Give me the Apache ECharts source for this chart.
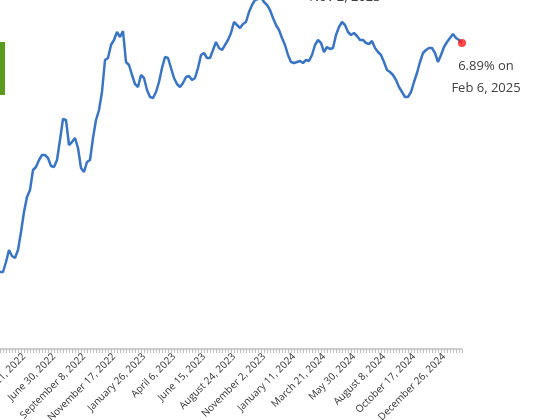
<!DOCTYPE html>
<html><head><meta charset="utf-8">
<script src="https://cdn.jsdelivr.net/npm/echarts@6/dist/echarts.min.js"></script>
<style>html,body{margin:0;padding:0;background:#fff}#c{width:560px;height:420px}</style>
</head><body><div id="c"></div>
<script>
// Weekly 30-year mortgage rate (%), first week Feb 24, 2022, last week Feb 6, 2025
const startDate = '2022-02-24';
const rates = [2.36,2.36,2.56,2.80,2.68,2.64,2.80,3.16,3.56,3.86,4.00,4.40,4.46,4.60,4.70,4.70,4.64,4.48,4.46,4.60,
5.00,5.42,5.40,4.90,4.96,5.04,4.84,4.44,4.36,4.56,4.60,5.04,5.40,5.60,5.96,6.60,6.64,6.90,7.00,7.16,
7.06,7.18,6.56,6.50,6.30,6.12,6.06,6.30,6.24,6.00,5.86,5.84,5.96,6.16,6.44,6.66,6.64,6.44,6.24,6.12,
6.06,6.14,6.26,6.28,6.20,6.24,6.44,6.70,6.74,6.64,6.64,6.80,6.96,6.84,6.80,6.90,7.00,7.14,7.36,7.30,
7.24,7.32,7.36,7.56,7.70,7.80,7.82,7.86,7.76,7.70,7.60,7.44,7.30,7.20,7.04,6.90,6.70,6.56,6.54,6.56,
6.58,6.54,6.60,6.58,6.70,6.90,7.00,6.94,6.76,6.86,6.82,6.84,7.10,7.26,7.36,7.30,7.16,7.10,7.14,7.08,
7.00,7.00,6.94,6.92,6.98,6.84,6.76,6.70,6.56,6.40,6.36,6.30,6.20,6.06,5.96,5.86,5.86,5.96,6.16,6.34,
6.56,6.74,6.80,6.84,6.84,6.74,6.56,6.70,6.86,6.96,7.04,7.12,7.04,7.00,6.94];
const lastLabel = ['6.89% on', 'Feb 6, 2025'];
const peakLabel = 'Nov 2, 2023';
const months = ['January','February','March','April','May','June','July','August','September','October','November','December'];

const dates = [];
const d0 = new Date(startDate + 'T00:00:00Z');
for (let i = 0; i < rates.length; i++) {
  const d = new Date(d0.getTime() + i * 7 * 86400000);
  dates.push(months[d.getUTCMonth()] + ' ' + d.getUTCDate() + ', ' + d.getUTCFullYear());
}
const lastIdx = rates.length - 1;

const chart = echarts.init(document.getElementById('c'));
chart.setOption({
  animation: false,
  grid: {left: 0, right: 98, top: 0, bottom: 71, containLabel: false, outerBoundsMode: 'none'},
  xAxis: {
    type: 'category', data: dates, boundaryGap: false,
    axisLine: {lineStyle: {color: '#bfbfbf', width: 1.5}},
    axisTick: {show: true, interval: 0, length: 4, lineStyle: {color: '#bfbfbf'}},
    axisLabel: {
      rotate: 45, color: '#333', fontSize: 10, fontFamily: 'Open Sans',
      interval: (i) => (i - 8) % 10 === 0, margin: 6, hideOverlap: false
    }
  },
  yAxis: {type: 'value', min: 0.82, max: 7.8, show: false, splitLine: {show: false}},
  series: [{
    type: 'line', data: rates, showSymbol: false, clip: false,
    lineStyle: {color: '#3a75c4', width: 2.5}, itemStyle: {color: '#3a75c4'}
  }, {
    type: 'scatter', data: [[lastIdx, rates[lastIdx]]], symbolSize: 8, clip: false,
    itemStyle: {color: '#ff1a1a'}, z: 5
  }],
  graphic: [
    {type: 'rect', left: 0, top: 42, shape: {width: 5, height: 53}, style: {fill: '#5a9a1e'}},
    {type: 'text', x: 345, y: -9, style: {text: peakLabel, fill: '#404040', font: '13px "Open Sans"', align: 'center'}},
    {type: 'text', x: 486, y: 55, style: {text: lastLabel.join('\n'), fill: '#404040', font: '13px "Open Sans"', lineHeight: 22, align: 'center'}}
  ]
});
</script></body></html>
